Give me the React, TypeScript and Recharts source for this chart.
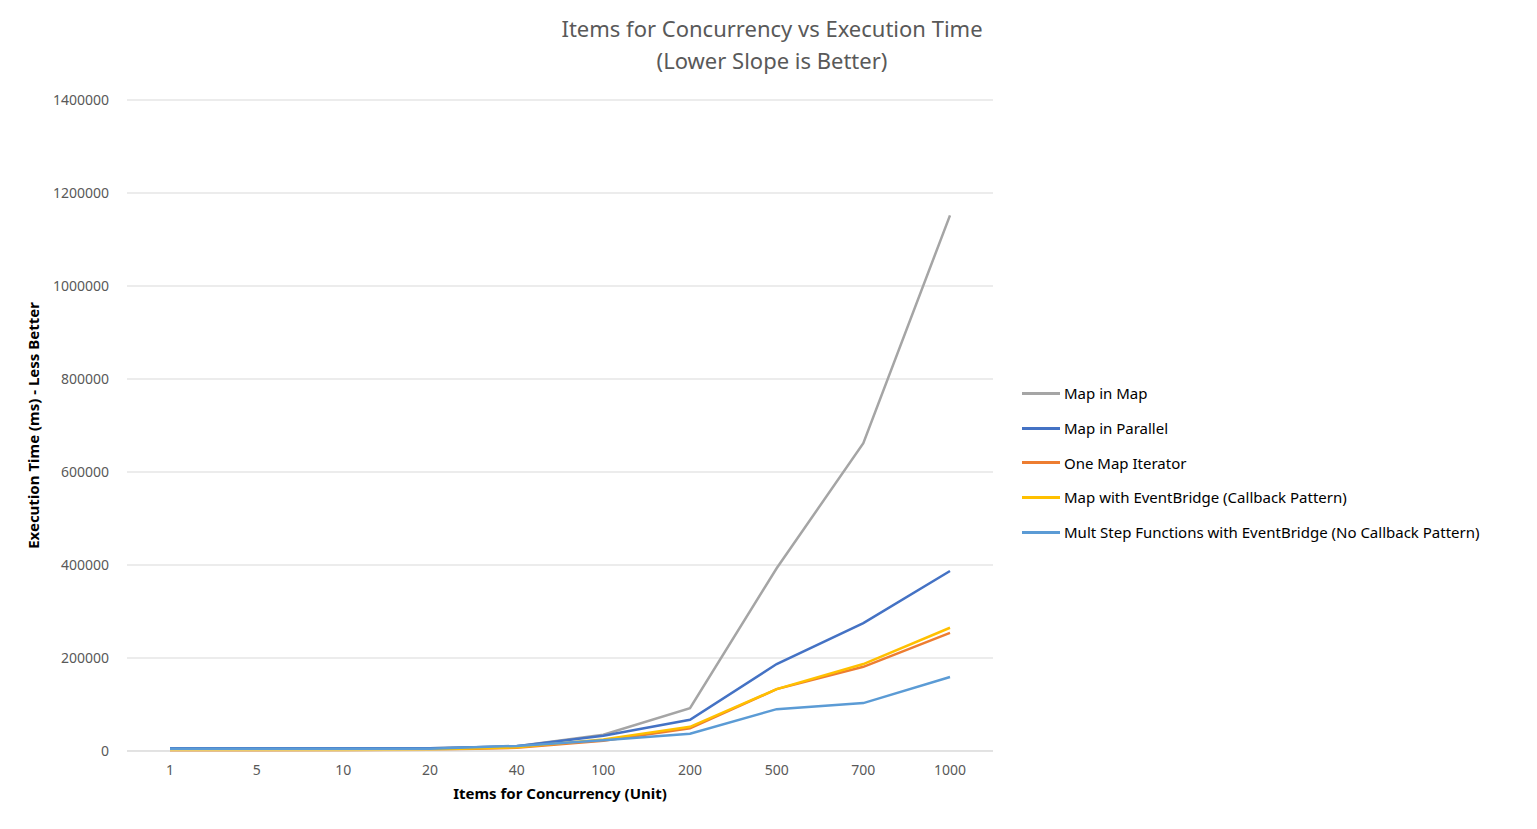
import { LineChart, Line, XAxis, YAxis, CartesianGrid } from "recharts";

const categories = ["1", "5", "10", "20", "40", "100", "200", "500", "700", "1000"];
const mapInMap = [5000, 5000, 5000, 6000, 10000, 35000, 92000, 393000, 662000, 1152000];
const mapInParallel = [6000, 6000, 6000, 6000, 10000, 33000, 67000, 187000, 275000, 387000];
const oneMapIterator = [1000, 1000, 1500, 2500, 7000, 22000, 49000, 133000, 181000, 254000];
const mapWithEventBridge = [2000, 2000, 2000, 3000, 8000, 25000, 52000, 133000, 187000, 265000];
const multStepFunctions = [5000, 5000, 5000, 5000, 11000, 23000, 37000, 90000, 103000, 159000];
const yTicks = [0, 200000, 400000, 600000, 800000, 1000000, 1200000, 1400000];

const series = [
  { key: "a", name: "Map in Map", color: "#a5a5a5", values: mapInMap },
  { key: "b", name: "Map in Parallel", color: "#4472c4", values: mapInParallel },
  { key: "c", name: "One Map Iterator", color: "#ed7d31", values: oneMapIterator },
  { key: "d", name: "Map with EventBridge (Callback Pattern)", color: "#ffc000", values: mapWithEventBridge },
  { key: "e", name: "Mult Step Functions with EventBridge (No Callback Pattern)", color: "#5b9bd5", values: multStepFunctions },
];

const data = categories.map((c, i) => {
  const row: Record<string, string | number> = { cat: c };
  series.forEach((s) => (row[s.key] = s.values[i]));
  return row;
});

const font = "'Noto Sans', sans-serif";
const tick = { fill: "#595959", fontSize: 14, fontFamily: font };

export default function App() {
  return (
    <div style={{ position: "absolute", left: 0, top: 0, width: 1537, height: 829, background: "#fff", fontFamily: font }}>
      <div style={{ position: "absolute", left: 550, width: 444, top: 12, textAlign: "center", color: "#595959", fontSize: 22, lineHeight: "32px" }}>
        Items for Concurrency vs Execution Time<br />(Lower Slope is Better)
      </div>
      <LineChart width={1537} height={829} data={data} margin={{ top: 100, right: 544, left: 20, bottom: 28 }}>
        <CartesianGrid vertical={false} stroke="#d9d9d9" />
        <XAxis
          dataKey="cat"
          tick={tick}
          tickLine={false}
          axisLine={{ stroke: "#d9d9d9" }}
          height={50}
          tickMargin={8}
          padding={{ left: 43, right: 43 }}
          label={{ value: "Items for Concurrency (Unit)", position: "insideBottom", offset: 2, fill: "#000", fontSize: 15, fontWeight: "bold", fontFamily: font }}
        />
        <YAxis
          ticks={yTicks}
          domain={[0, 1400000]}
          tick={tick}
          tickLine={false}
          axisLine={false}
          width={107}
          tickMargin={12}
          label={{ value: "Execution Time (ms) - Less Better", angle: -90, position: "insideLeft", offset: 14, style: { textAnchor: "middle" }, fill: "#000", fontSize: 15, fontWeight: "bold", fontFamily: font }}
        />
        {series.map((s) => (
          <Line key={s.key} dataKey={s.key} name={s.name} stroke={s.color} strokeWidth={2.5} dot={false} isAnimationActive={false} />
        ))}
      </LineChart>
      <div style={{ position: "absolute", left: 1022, top: 376, fontSize: 15, color: "#000" }}>
        {series.map((s) => (
          <div key={s.key} style={{ display: "flex", alignItems: "center", height: 34.7 }}>
            <span style={{ width: 38, height: 3, background: s.color, marginRight: 4 }} />
            {s.name}
          </div>
        ))}
      </div>
    </div>
  );
}
